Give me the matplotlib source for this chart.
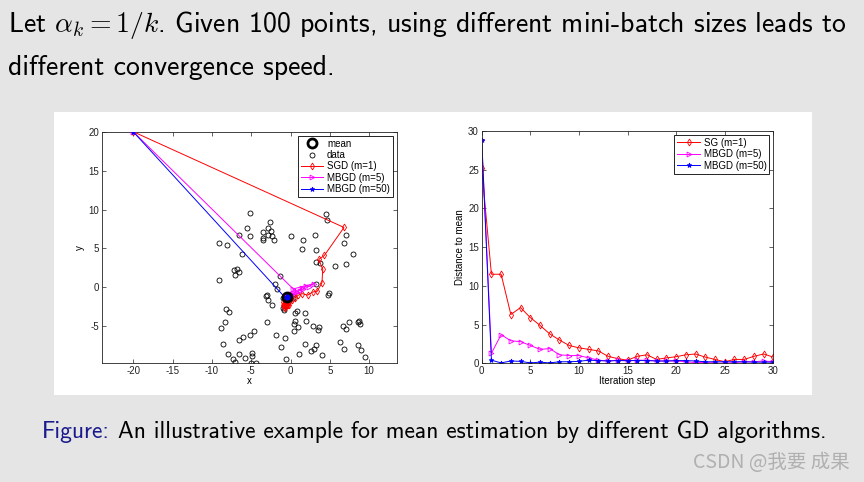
import os
import matplotlib
matplotlib.use('Agg')
import matplotlib.pyplot as plt
from matplotlib.font_manager import FontProperties
from matplotlib.patches import Rectangle

# scatter data (100 random points in the original)
data_x = [-5.2, 4.45, 4.6, -2.55, -5.5, -3.5, -2.85, -2.45, -2.9, -2.3, -2.05, -3.5, -3.5,
          -6.6, -5.1, 0.1, 3.1, 1.6, 7.0, 6.8, 1.45, 3.2, -9.1, -8.05, 8.0, -6.15, 3.2, 3.7,
          5.7, 7.05, -7.2, -6.8, -7.0, -6.5, -9.1, -1.35, -2.0, -1.7, 3.25, 4.9, 4.75, -3.1,
          -2.9, -2.35, -0.85, 0.85, 1.9, -8.15, -7.85, -8.35, -8.85, -3.05, 0.55, 0.45, 0.4,
          2.85, 3.65, 3.45, 1.0, 6.65, 7.0, 7.4, 8.55, 8.75, 8.8, -6.0, -6.55, -5.2, -4.6,
          -1.85, -0.7, -8.55, -1.15, 3.2, 1.8, 3.0, 2.65, 3.95, 1.05, 6.3, 6.85, 8.6, 9.0,
          9.45, -7.9, -6.5, -4.85, -4.85, -5.8, -7.3, -7.1, -5.05, -4.35, -0.6, -1.0, 0.3,
          -3.0, 2.0, -0.9, 0.6]
data_y = [9.6, 9.4, 8.6, 8.35, 7.6, 7.1, 7.6, 7.25, 6.7, 6.6, 6.15, 6.4, 6.1,
          6.7, 6.6, 6.6, 6.7, 6.1, 6.75, 5.65, 4.9, 4.75, 5.65, 5.4, 4.35, 4.3, 3.25, 3.15,
          2.75, 2.95, 2.25, 2.3, 1.65, 1.95, 1.0, 1.5, 0.5, -0.2, 0.45, -0.75, -1.0, -1.05,
          -1.65, -2.3, -2.85, -3.05, -3.25, -2.8, -3.1, -4.5, -5.25, -4.45, -4.3, -4.75, -5.65,
          -4.9, -5.1, -5.5, -5.05, -5.0, -5.35, -4.5, -4.5, -4.3, -4.65, -6.35, -6.7, -6.1, -5.65,
          -6.1, -6.5, -7.3, -7.6, -7.45, -7.3, -7.9, -8.2, -8.7, -8.5, -7.05, -7.95, -7.4, -8.0,
          -8.9, -8.5, -8.5, -8.45, -8.85, -9.05, -9.15, -9.55, -9.75, -9.75, -9.25, -1.3, -1.4,
          -1.0, -4.3, -2.7, -3.3]

mean_x, mean_y = -0.45, -1.25

# iterates in the plane
sgd_x = [-20, 6.8, 4.3, 3.6, 4.1, 4.0, 3.4, 2.8, 2.2, 1.5, 1.0, 0.6, 0.2, -0.2, -0.5, -0.8,
         -0.6, -0.3, 0.1, -0.6, -0.9, -0.4, -0.7, -1.0, -0.5, -0.2, -0.8, -0.6, -0.3, -0.7, -0.5]
sgd_y = [20, 7.7, 4.1, 3.6, 2.3, 0.6, -0.5, -0.6, -1.0, -0.8, -1.0, -1.3, -1.6, -1.9, -2.1, -2.2,
         -1.8, -2.0, -1.5, -2.4, -1.9, -2.2, -2.6, -2.2, -1.7, -2.3, -2.5, -2.0, -2.2, -1.9, -2.1]
mb5_x = [-20, 0.35, 3.0, 2.3, 2.0, 1.6, 1.2, 1.4, 0.8, 0.6, 0.5, 0.2, 0.0, -0.2, 0.1, -0.1,
         0.0, -0.3, -0.2, 0.0, -0.1, -0.3, -0.4, -0.5, -0.45, -0.3, -0.2, -0.1, -0.3, -0.2, -0.3]
mb5_y = [20, -0.2, 0.5, 0.1, 0.2, -0.2, -0.4, -0.1, -0.6, -0.5, -0.7, -0.9, -1.0, -1.1, -0.9, -1.0,
         -1.1, -1.2, -1.0, -1.1, -1.2, -1.1, -1.2, -1.2, -1.25, -1.2, -1.1, -1.0, -1.1, -1.0, -1.1]
mb50_x = [-20, -0.6, -0.45, -0.3, -0.5, -0.4, -0.35, -0.45, -0.3, -0.25, -0.3, -0.1, -0.15,
          -0.2, -0.15, -0.15, -0.15, -0.15, -0.2, -0.2, -0.15, -0.15, -0.2, -0.3, -0.3, -0.3,
          -0.3, -0.3, -0.35, -0.35, -0.35]
mb50_y = [20, -1.4, -1.2, -1.0, -1.4, -1.25, -1.35, -1.25, -1.1, -1.1, -1.05, -1.0, -1.0,
          -1.05, -1.0, -1.0, -1.0, -1.0, -1.05, -1.05, -1.0, -1.0, -1.05, -1.1, -1.1, -1.1,
          -1.1, -1.1, -1.15, -1.15, -1.15]

# distance to mean per iteration
steps = list(range(31))
dist_sg = [25.2, 11.5, 11.5, 6.3, 7.2, 5.9, 4.9, 3.8, 3.0, 2.3, 2.0, 1.8, 1.6, 0.9, 0.6, 0.4,
           0.9, 1.1, 0.5, 0.7, 0.85, 1.1, 1.2, 0.8, 0.5, 0.2, 0.5, 0.5, 0.9, 1.2, 0.8]
dist_mb5 = [28.9, 1.3, 3.7, 2.9, 2.8, 2.3, 1.8, 1.9, 1.1, 1.0, 1.0, 0.7, 0.4, 0.3, 0.4, 0.3,
            0.4, 0.4, 0.3, 0.3, 0.3, 0.2, 0.1, 0.1, 0.05, 0.0, 0.1, 0.2, 0.2, 0.3, 0.2]
dist_mb50 = [28.9, 0.4, 0.05, 0.3, 0.25, 0.05, 0.15, 0.05, 0.2, 0.2, 0.25, 0.4, 0.35, 0.3, 0.35,
             0.35, 0.35, 0.35, 0.3, 0.3, 0.35, 0.35, 0.3, 0.2, 0.2, 0.2, 0.2, 0.2, 0.15, 0.15, 0.15]

W, H = 864, 482
plt.rcParams['font.family'] = ['Liberation Sans', 'DejaVu Sans']
plt.rcParams['mathtext.fontset'] = 'cm'
plt.rcParams['axes.unicode_minus'] = False

cmss = FontProperties(fname=os.path.join(matplotlib.get_data_path(), 'fonts', 'ttf', 'cmss10.ttf'))

fig = plt.figure(figsize=(W / 100, H / 100), dpi=100)
fig.patch.set_facecolor('#e5e5e5')


def box(l, t, r, b):
    return [l / W, 1 - b / H, (r - l) / W, (b - t) / H]


fig.add_artist(Rectangle((54 / W, 1 - 395 / H), (812 - 54) / W, (395 - 112) / H,
                         transform=fig.transFigure, facecolor='white', edgecolor='none', zorder=0))


def matlab_style(ax):
    for s in ax.spines.values():
        s.set_linewidth(0.6)
        s.set_color('#222222')
    ax.tick_params(direction='in', length=3, width=0.5, labelsize=7, top=True, right=True,
                   pad=2, colors='#222222')


# left plot
ax1 = fig.add_axes(box(101.7, 131.7, 396.7, 363.3))
ax1.plot(data_x, data_y, 'o', mfc='none', mec='k', ms=3.6, mew=0.6, label='data', zorder=2)
ax1.plot(sgd_x, sgd_y, '-d', color='red', mfc='none', ms=3.5, lw=0.7, mew=0.6, label='SGD (m=1)', zorder=3)
ax1.plot(mb5_x, mb5_y, '->', color='magenta', mfc='none', ms=3.5, lw=0.7, mew=0.6, label='MBGD (m=5)', zorder=4)
ax1.plot(mb50_x, mb50_y, '-*', color='blue', ms=3.5, lw=0.7, mew=0.6, label='MBGD (m=50)', zorder=5)
ax1.plot([mean_x], [mean_y], 'o', mfc='none', mec='k', ms=6.5, mew=2, label='mean', zorder=6)
ax1.set_xlim(-24, 13.5)
ax1.set_ylim(-9.75, 20)
ax1.set_xticks(range(-20, 11, 5))
ax1.set_yticks(range(-5, 21, 5))
ax1.set_xlabel('x', fontsize=7, labelpad=0)
ax1.set_ylabel('y', fontsize=7, labelpad=2)
matlab_style(ax1)
hs, ls = ax1.get_legend_handles_labels()
order = [4, 0, 1, 2, 3]
leg = ax1.legend([hs[i] for i in order], [ls[i] for i in order], loc='upper right', fontsize=7,
                 fancybox=False, edgecolor='k', framealpha=1, borderaxespad=0.4,
                 handlelength=2.3, handletextpad=0.4, labelspacing=0.15, borderpad=0.3)
leg.get_frame().set_linewidth(0.6)

# right plot
ax2 = fig.add_axes(box(481.7, 131, 773.3, 363.3))
ax2.plot(steps, dist_sg, '-d', color='red', mfc='none', ms=3.5, lw=0.7, mew=0.6, label='SG (m=1)')
ax2.plot(steps, dist_mb5, '->', color='magenta', mfc='none', ms=3.5, lw=0.7, mew=0.6, label='MBGD (m=5)')
ax2.plot(steps, dist_mb50, '-*', color='blue', ms=3.5, lw=0.7, mew=0.6, label='MBGD (m=50)')
ax2.set_xlim(0, 30)
ax2.set_ylim(0, 30)
ax2.set_xticks(range(0, 31, 5))
ax2.set_yticks(range(0, 31, 5))
ax2.set_xlabel('Iteration step', fontsize=7, labelpad=0)
ax2.set_ylabel('Distance to mean', fontsize=7, labelpad=2)
matlab_style(ax2)
leg2 = ax2.legend(loc='upper right', fontsize=7, fancybox=False, edgecolor='k', framealpha=1,
                  borderaxespad=0.4, handlelength=2.3, handletextpad=0.4, labelspacing=0.15,
                  borderpad=0.3)
leg2.get_frame().set_linewidth(0.6)

# slide text
fig.text(8 / W, 1 - 25 / H, r'Let $\alpha_k = 1/k$. Given 100 points, using different mini-batch sizes leads to',
         fontproperties=cmss, fontsize=20, va='center', ha='left')
fig.text(8 / W, 1 - 68 / H, 'different convergence speed.', fontproperties=cmss, fontsize=20,
         va='center', ha='left')

t1 = fig.text(42 / W, 1 - 432 / H, 'Figure:', fontproperties=cmss, fontsize=17, va='center',
              ha='left', color='#1a1a8c')
renderer = fig.canvas.get_renderer()
ext = t1.get_window_extent(renderer)
fig.text((ext.x1 + 8) / W, 1 - 432 / H,
         'An illustrative example for mean estimation by different GD algorithms.',
         fontproperties=cmss, fontsize=17, va='center', ha='left')
fig.text(850 / W, 1 - 463 / H, 'CSDN @我要 成果', family=['Noto Sans CJK SC', 'DejaVu Sans'],
         fontsize=14, color='#b0b0b0', va='center', ha='right')

fig.savefig('out.png', dpi=100, facecolor=fig.get_facecolor())
